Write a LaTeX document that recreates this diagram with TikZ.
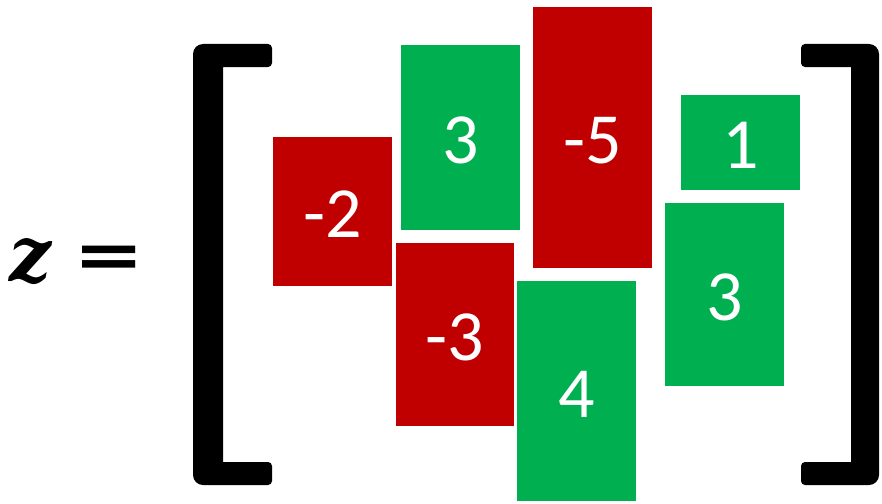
\documentclass[tikz,border=0pt]{standalone}
\usepackage{graphicx}
\usepackage{fontspec}
\newfontfamily\digfont{Carlito}
\newfontfamily\zfont{DejaVu Serif}
\newfontfamily\eqfont{DejaVu Sans}
\definecolor{boxred}{HTML}{C00000}
\definecolor{boxgreen}{HTML}{00B050}
\tikzset{
  cell/.style={rectangle, inner sep=0pt, minimum width=119pt, text=white,
    font=\digfont\fontsize{72}{80}\selectfont},
  negcell/.style={cell, fill=boxred},
  poscell/.style={cell, fill=boxgreen},
}
\newcommand{\lowered}[1]{\raisebox{-3pt}[\height][0pt]{#1}}
\begin{document}
\begin{tikzpicture}[x=1pt,y=-1pt]
\useasboundingbox (0,0) rectangle (882,503);
% left side
\node[inner sep=0pt] (zlab) at (31,261.5) {\resizebox{42pt}{43pt}{\zfont\bfseries\itshape z}};
\node[inner sep=0pt, anchor=base] (eqs) at (109,277) {\scalebox{1.37}[1.05]{\eqfont\bfseries\fontsize{62}{70}\selectfont =}};
% brackets
\fill[black] (223,264) [sharp corners] -- (223,67) [rounded corners=4pt] -- (272,67) -- (272,44) [rounded corners=10pt] -- (193,44) -- (193,485) [rounded corners=4pt] -- (272,485) -- (272,462) [sharp corners] -- (223,462) -- cycle;
\fill[black] (851,264) [sharp corners] -- (851,67) [rounded corners=4pt] -- (801,67) -- (801,44) [rounded corners=10pt] -- (879,44) -- (879,485) [rounded corners=4pt] -- (801,485) -- (801,462) [sharp corners] -- (851,462) -- cycle;
% cells
\node[negcell, minimum height=149pt] (m2) at (332.5,211.5) {\lowered{-2}};
\node[poscell, minimum height=185pt] (g3a) at (460.5,137.5) {\lowered{3}};
\node[negcell, minimum height=183pt, minimum width=118pt] (m3) at (455,334.5) {\lowered{-3}};
\node[negcell, minimum height=261pt] (m5) at (592.5,137.5) {\lowered{-5}};
\node[poscell, minimum height=220pt] (g4) at (576.5,391) {\lowered{4}};
\node[poscell, minimum height=95pt] (g1) at (740.5,142) {\lowered{1}};
\node[poscell, minimum height=183pt] (g3b) at (724.5,294.5) {\lowered{3}};
\end{tikzpicture}
\end{document}
